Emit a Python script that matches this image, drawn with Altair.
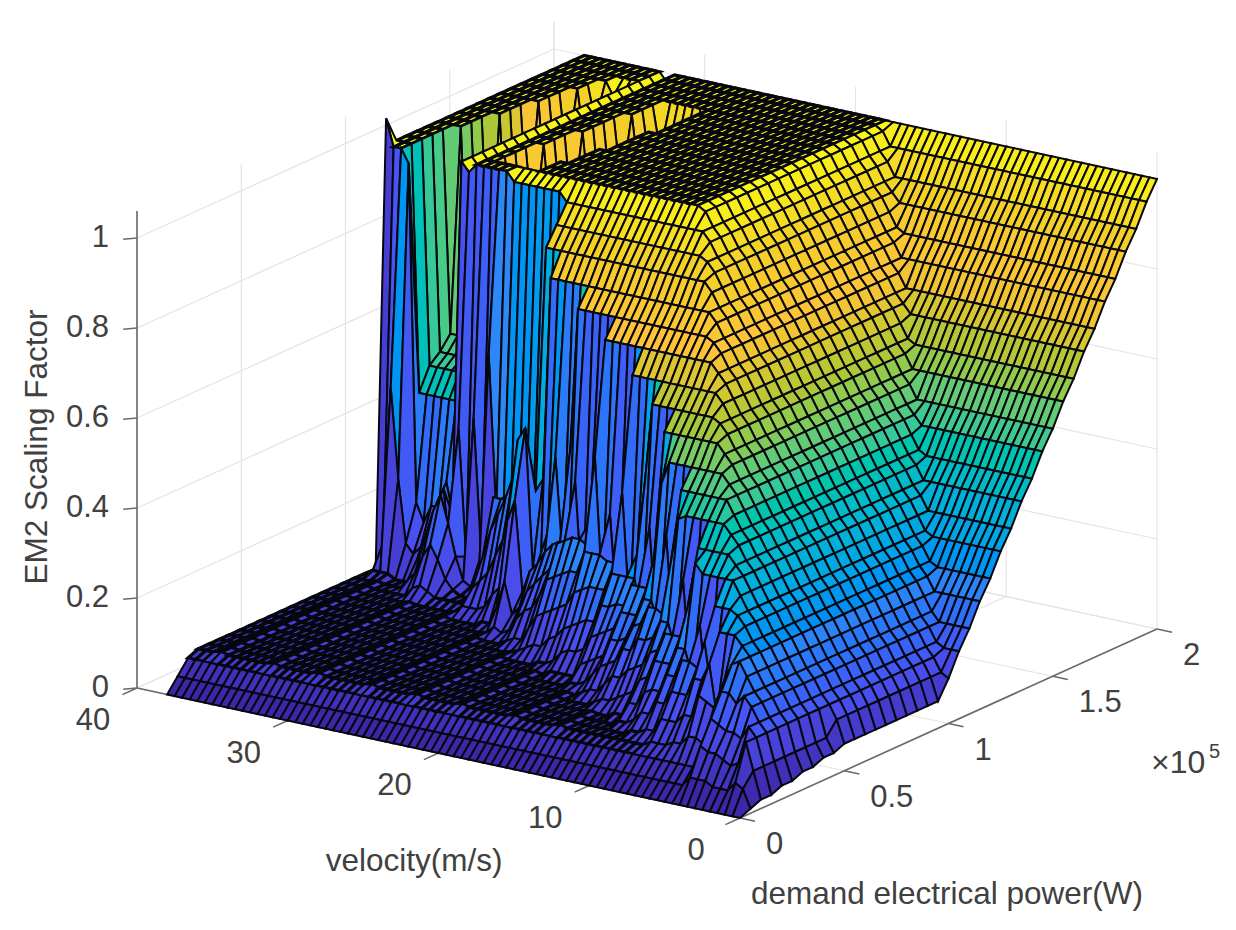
import altair as alt

alt.data_transformers.disable_max_rows()

# Axis tick values
V_TICKS = [40, 30, 20, 10, 0]
P_TICKS = [0, 0.5, 1, 1.5, 2]
Z_TICKS = [0, 0.2, 0.4, 0.6, 0.8, 1]
Z_TOP = 1.06

# Surface sample axes
VELOCITY = [x / 2 for x in range(76, -1, -1)]   # m/s, back to front
POWER = [i / 20 for i in range(41)]             # x 1e5 W

# Values (scaling factor, percent), by power column
HC = [5, 9, 14, 18, 22, 27, 31, 35, 40, 44, 49, 53, 57, 62, 66, 70, 75, 79, 83, 88, 92, 96] + [100] * 19
FA = [5] * 19 + [6, 10, 15, 19, 24, 28, 33, 37, 42, 46, 51, 55, 60, 64, 69, 73, 78, 82, 87, 91, 96, 100]
NF = [45] * 22 + [45, 50, 52, 55, 57, 60, 63, 67, 70, 74, 78, 82, 85, 88, 92, 97] + [100] * 3
FL = [80] * 23 + [80, 80, 81, 81, 82, 82, 83, 83, 84, 85, 86, 88, 90] + [100] * 5
L = [0, 3, 6]
R = 7.4   # faint ridge rows on the low plate


def tail(iw, zv, k, n):
    return HC[iw:k] + [zv] * (n - k) + FA[n:]


SURFACE = [
    L + [7] * 18 + [106] + [100] * 19,                                   # 38
    L + [7] * 16 + [8, 13] + [100] * 20,                                 # 37.5
    L + [7] * 16 + [8, 48] + [100] * 20,                                 # 37
    L + [R] * 16 + [8, 28, 97] + NF[22:26] + [100] * 15,                 # 36.5
    L + [7] * 17 + [14, 22] + NF[22:29] + [100] * 12,                    # 36
    L + [7] * 17 + [12, 18] + NF[22:32] + [100] * 9,                     # 35.5
    L + [7] * 17 + [14, 22] + NF[22:35] + [100] * 6,                     # 35
    L + [7] * 15 + [9, 13, 15, 22] + NF[22:37] + [100] * 4,              # 34.5
    L + [7] * 15 + [11, 18, 24, 28] + NF[22:38] + [100] * 3,             # 34
    L + [7] * 14 + [9, 15, 24, 28, 20] + NF[22:38] + [100] * 3,          # 33.5
    L + [R] * 14 + [10, 18, 28, 12] + [100] * 20,                        # 33
    L + [7] * 14 + [9, 15, 22, 42] + [98] * 20,                          # 32.5
    L + [7] * 14 + [8, 11, 15, 14] + [100] * 20,                         # 32
    L + [7] * 14 + [8, 9, 10, 45] + [100] * 20,                          # 31.5
    L + [7] * 14 + [8, 8, 9, 15, 100, 100] + FL[23:26] + [100] * 15,     # 31
    L + [7] * 14 + [8, 8, 9, 60, 100, 100] + FL[23:29] + [100] * 12,     # 30.5
    L + [R] * 14 + [8, 8, 9, 25, 100, 100] + FL[23:33] + [100] * 8,      # 30
    L + [7] * 13 + [9, 12, 18, 30, 28, 98, 100] + FL[23:36] + [100] * 5,  # 29.5
    L + [7] * 13 + [9, 14, 24, 30, 30, 98, 100] + FL[23:36] + [100] * 5,  # 29
    L + [7] * 13 + [9, 16, 28, 30, 28, 98, 100, 100, 100] + FL[25:36] + [100] * 5,  # 28.5
    L + [7] * 13 + [10, 20, 32, 32, 30, 98, 100] + [100] * 5 + FL[28:36] + [100] * 5,  # 28
    L + [7] * 12 + [8, 13, 24, 37, 30, 32, 98, 100] + [100] * 9 + FL[32:36] + [100] * 5,  # 27.5
    L + [7] * 12 + [8, 15, 28, 42, 32, 30, 98] + [100] * 19,             # 27
    L + [R] * 12 + [12, 30, 47, 28, 30, 28, 98] + [100] * 19,            # 26.5
    L + [7] * 11 + [9, 18, 35, 50, 35] + HC[19:],                        # 26
    L + [7] * 11 + [8, 11, 15, 19, 38] + HC[19:],                        # 25.5
    L + [7] * 11 + [9, 13, 20, 18] + HC[18:],                            # 25
    L + [7] * 10 + [8, 12, 17, 22, 28] + HC[18:],                        # 24.5
    L + [7] * 10 + [9, 14, 19, 25, 45] + HC[18:],                        # 24
    L + [R] * 10 + [9, 15, 21, 27, 22] + HC[18:],                        # 23.5
    L + [7] * 9 + [8, 12, 18, 23, 28, 48] + HC[18:],                     # 23
    L + [7] * 9 + [9, 15, 22, 29, 20] + HC[17:],                         # 22.5
    L + [7] * 9 + [10, 16, 23, 30, 42] + HC[17:],                        # 22
    L + [7] * 9 + [10, 17, 24, 31, 16] + HC[17:],                        # 21.5
    L + [7] * 8 + [8, 12, 18, 25, 31, 34] + HC[17:],                     # 21
    L + [R] * 8 + [8, 13, 19, 25, 30, 15] + HC[17:],                     # 20.5
    L + [7] * 8 + [9, 15, 22, 30, 50] + HC[16:],                         # 20
    L + [7] * 7 + [8, 11, 16, 23, 30, 20] + HC[16:],                     # 19.5
    L + [7] * 7 + [8, 12, 17, 24, 30, 38] + HC[16:],                     # 19
    L + [7] * 7 + [8, 12, 18, 24, 29, 15] + HC[16:],                     # 18.5
    L + [7] * 7 + [8, 13, 18, 24, 29, 30] + HC[16:],                     # 18
    L + [7] * 6 + [8, 11, 16, 22, 28, 45] + tail(15, 99, 22, 40),        # 17.5
    L + [R] * 6 + [8, 12, 17, 22, 28, 18] + tail(15, 96, 21, 40),        # 17
    L + [7] * 6 + [9, 13, 18, 23, 28, 32] + tail(15, 94, 21, 39),        # 16.5
    L + [7] * 5 + [8, 11, 14, 19, 23, 28, 48] + tail(15, 91, 20, 39),    # 16
    L + [7] * 5 + [9, 13, 18, 23, 28, 20] + tail(14, 89, 20, 38),        # 15.5
    L + [7] * 5 + [9, 14, 18, 23, 28, 40] + tail(14, 86, 19, 37),        # 15
    L + [7] * 4 + [8, 11, 15, 19, 23, 28, 16] + tail(14, 83, 18, 37),    # 14.5
    L + [R] * 4 + [9, 13, 18, 22, 27, 35] + tail(13, 81, 18, 36),        # 14
    L + [7] * 4 + [9, 13, 18, 23, 27, 52] + tail(13, 78, 17, 36),        # 13.5
    L + [7] * 4 + [10, 15, 21, 27, 22] + tail(12, 76, 17, 35),           # 13
    L + [7] * 3 + [8, 11, 16, 21, 27, 42] + tail(12, 73, 16, 35),        # 12.5
    L + [7] * 3 + [8, 12, 17, 22, 26, 18] + tail(12, 71, 16, 34),        # 12
    L + [7] * 2 + [8, 11, 15, 20, 26, 38] + tail(11, 68, 15, 33),        # 11.5
    L + [7] * 2 + [8, 11, 16, 21, 26, 48] + tail(11, 65, 14, 33),        # 11
    L + [7] * 2 + [9, 14, 20, 25, 20] + tail(10, 63, 14, 32),            # 10.5
    L + [7] + [8, 11, 15, 20, 25, 36] + tail(10, 60, 13, 32),            # 10
    L + [7] + [8, 11, 15, 20, 25, 14] + tail(10, 58, 13, 31),            # 9.5
    L + [7] + [9, 14, 19, 24, 32] + tail(9, 55, 12, 31),                 # 9
    L + [7] + [9, 14, 19, 24, 42] + tail(9, 53, 11, 30),                 # 8.5
    L + [8, 12, 17, 23, 18] + tail(8, 50, 11, 29),                       # 8
    L + [8, 12, 17, 23, 30] + tail(8, 47, 10, 29),                       # 7.5
    L + [8, 12, 17, 22, 13] + tail(8, 45, 10, 28),                       # 7
    L + [9, 14, 21, 28] + tail(7, 42, 9, 28),                            # 6.5
    L + [9, 14, 21, 16] + tail(7, 40, 8, 27),                            # 6
    L + [11, 19, 25] + tail(6, 37, 8, 27),                               # 5.5
    L + [11, 18, 14] + tail(6, 34, 7, 26),                               # 5
    L + [10, 17, 22] + tail(6, 32, 7, 25),                               # 4.5
    [0, 5, 11, 16, 21, 26] + tail(6, 29, 6, 25),                         # 4
    [0, 5, 10, 15, 21] + tail(5, 27, 5, 24),                             # 3.5
    [0, 5, 10, 14, 19] + tail(5, 24, 5, 24),                             # 3
    [0, 4, 9, 14] + tail(4, 21, 4, 23),                                  # 2.5
    [0, 4, 8, 13] + tail(4, 19, 4, 23),                                  # 2
    [0, 4, 9] + tail(3, 16, 3, 22),                                      # 1.5
    [0, 6] + tail(2, 14, 2, 21),                                         # 1
    [0, 5] + [8] * 8 + [11] * 11 + FA[21:],                              # 0.5
    [0, 1, 2, 2, 3, 3, 4, 4, 5, 5] + [6] * 10 + FA[20:],                 # 0
]
SURFACE = [(r + [100] * 41)[:41] for r in SURFACE]

PARULA = ["#3e26a8", "#4852f4", "#2d87f7", "#12b1d6", "#37c897",
          "#abc739", "#fec338", "#f2cf28", "#f9fb15"]


# Orthographic view of the box (page pixels)
def proj(v, p, z):
    return (740 - 15.075 * v + 208.5 * p, 818 - 3.25 * v - 94.5 * p - 450 * z)


features = []
for k in range(len(VELOCITY) - 1):
    for j in range(len(POWER) - 2, -1, -1):
        corners = [(k, j), (k, j + 1), (k + 1, j + 1), (k + 1, j), (k, j)]
        ring = [list(proj(VELOCITY[a], POWER[b], SURFACE[a][b] / 100)) for a, b in corners]
        zs = [SURFACE[a][b] for a, b in corners]
        flat = max(zs) - min(zs) <= 1 and (max(zs) <= 10 or min(zs) >= 100)
        features.append({
            "type": "Feature",
            "geometry": {"type": "Polygon", "coordinates": [ring]},
            "properties": {"c": min(zs) / 100, "w": 3.3 if flat else 2.0},
        })


def seg(a, b, kind):
    pa, pb = proj(*a), proj(*b)
    return {"x": pa[0], "y": pa[1], "x2": pb[0], "y2": pb[1], "kind": kind}


lines = []
for z in Z_TICKS:
    lines.append(seg((40, 0, z), (40, 2, z), "grid"))
    lines.append(seg((40, 2, z), (0, 2, z), "grid"))
for p in P_TICKS:
    lines.append(seg((40, p, 0), (0, p, 0), "grid"))
    lines.append(seg((40, p, 0), (40, p, Z_TOP), "grid"))
for v in V_TICKS:
    lines.append(seg((v, 0, 0), (v, 2, 0), "grid"))
    lines.append(seg((v, 2, 0), (v, 2, Z_TOP), "grid"))
lines.append(seg((40, 0, 0), (40, 0, Z_TOP), "axis"))
lines.append(seg((40, 0, 0), (0, 0, 0), "axis"))
lines.append(seg((0, 0, 0), (0, 2, 0), "axis"))
for z in Z_TICKS:
    lines.append(seg((40.5, -0.03, z), (40, 0, z), "axis"))
for v in V_TICKS:
    lines.append(seg((v, -0.07, 0), (v, 0, 0), "axis"))
for p in P_TICKS:
    lines.append(seg((-1, p, 0), (0, p, 0), "axis"))

labels = []
for z in Z_TICKS:
    x, y = proj(40, 0, z)
    labels.append({"x": x - 28, "y": y, "t": f"{z:g}", "a": 0, "al": "right", "s": 31})
for v in V_TICKS:
    x, y = proj(v, 0, 0)
    labels.append({"x": x - 44, "y": y + 33, "t": f"{v}", "a": 0, "al": "center", "s": 31})
for p in P_TICKS:
    x, y = proj(0, p, 0)
    labels.append({"x": x + 26, "y": y + 27, "t": f"{p:g}", "a": 0, "al": "left", "s": 31})
labels += [
    {"x": 414, "y": 862, "t": "velocity(m/s)", "a": 0, "al": "center", "s": 31.5},
    {"x": 947, "y": 895, "t": "demand electrical power(W)", "a": 0, "al": "center", "s": 31.5},
    {"x": 38, "y": 447, "t": "EM2 Scaling Factor", "a": 270, "al": "center", "s": 31.5},
    {"x": 1151, "y": 763, "t": "\u00d710", "a": 0, "al": "left", "s": 32},
    {"x": 1209, "y": 752, "t": "5", "a": 0, "al": "left", "s": 20},
]

SX = alt.Scale(domain=[8, 1228], range=[0, 1220], zero=False, nice=False)
SY = alt.Scale(domain=[8, 922], range=[0, 914], zero=False, nice=False)

rules = alt.Chart(alt.Data(values=lines)).mark_rule().encode(
    x=alt.X("x:Q", scale=SX, axis=None),
    y=alt.Y("y:Q", scale=SY, axis=None),
    x2="x2:Q",
    y2="y2:Q",
    color=alt.Color("kind:N", scale=alt.Scale(domain=["grid", "axis"], range=["#e4e4e4", "#6a6a6a"]), legend=None),
    size=alt.Size("kind:N", scale=alt.Scale(domain=["grid", "axis"], range=[1.2, 1.6]), legend=None),
)

surface = alt.Chart(alt.Data(values=features)).mark_geoshape(
    stroke="#07070f"
).encode(
    fill=alt.Fill("properties.c:Q", scale=alt.Scale(
        domain=[i / 8 for i in range(9)], range=PARULA, clamp=True), legend=None),
    strokeWidth=alt.StrokeWidth("properties.w:Q", scale=None, legend=None),
).project(type="identity", scale=1, translate=[-8, -8])

texts_l = [
    alt.Chart(alt.Data(values=[d for d in labels if d["al"] == al])).mark_text(
        font="Liberation Sans", color="#404040", baseline="middle", align=al
    ).encode(
        x=alt.X("x:Q", scale=SX, axis=None),
        y=alt.Y("y:Q", scale=SY, axis=None),
        text="t:N",
        angle=alt.Angle("a:Q", scale=None),
        size=alt.Size("s:Q", scale=None, legend=None),
    )
    for al in ["left", "center", "right"]
]

chart = alt.layer(rules, surface, *texts_l).resolve_scale(
    color="independent", size="independent"
).properties(
    width=1220, height=914, padding=0, background="white",
    autosize=alt.AutoSizeParams(type="none"),
).configure_view(stroke=None)

chart.save("out.html", embed_options={"renderer": "svg", "actions": False})
